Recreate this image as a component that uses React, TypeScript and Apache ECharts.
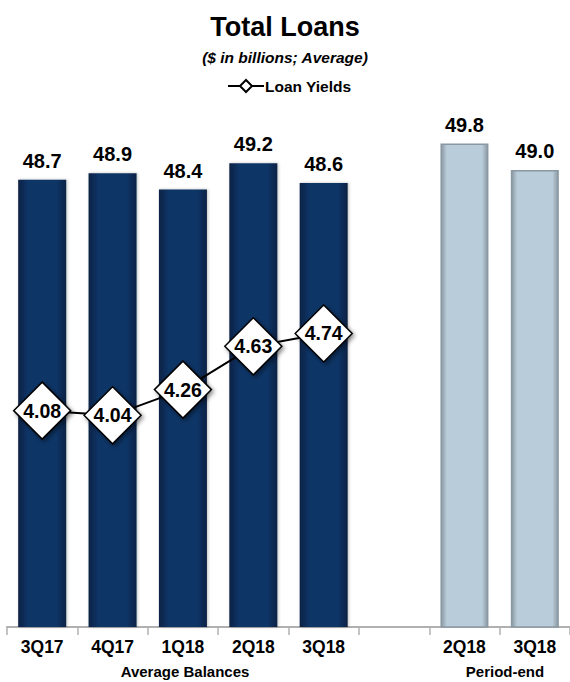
import React, { useEffect, useRef } from "react";
import * as echarts from "echarts";

const categories = ["3Q17", "4Q17", "1Q18", "2Q18", "3Q18", "", "2Q18", "3Q18"];
const averageBalances = [48.7, 48.9, 48.4, 49.2, 48.6, "-", "-", "-"];
const periodEnd = ["-", "-", "-", "-", "-", "-", 49.8, 49.0];
const loanYields = [4.08, 4.04, 4.26, 4.63, 4.74, "-", "-", "-"];
const groupLabels = ["Average Balances", "Period-end"];

const FONT = "'Liberation Sans', Arial, sans-serif";

export default function App() {
  const ref = useRef<HTMLDivElement>(null);
  useEffect(() => {
    document.body.style.margin = "0";
    const chart = echarts.init(ref.current!, null, { renderer: "svg" });
    const navy = new echarts.graphic.LinearGradient(0, 0, 1, 0, [
      { offset: 0, color: "#0a2244" },
      { offset: 0.2, color: "#0d3466" },
      { offset: 0.8, color: "#0d3466" },
      { offset: 1, color: "#0a2244" },
    ]);
    const light = new echarts.graphic.LinearGradient(0, 0, 1, 0, [
      { offset: 0, color: "#8a98a2" },
      { offset: 0.12, color: "#b9ccd9" },
      { offset: 0.88, color: "#b9ccd9" },
      { offset: 1, color: "#8a98a2" },
    ]);
    const barLabel = {
      show: true,
      position: "top",
      distance: 9,
      fontFamily: FONT,
      fontSize: 20,
      fontWeight: "bold",
      color: "#000",
      formatter: (p: any) => Number(p.value).toFixed(1),
    };
    chart.setOption({
      animation: false,
      textStyle: { fontFamily: FONT },
      title: [
        {
          text: "Total Loans",
          left: "center",
          top: 8,
          textStyle: { fontFamily: FONT, fontSize: 27, fontWeight: "bold", color: "#000" },
        },
        {
          text: "($ in billions; Average)",
          left: "center",
          top: 44,
          textStyle: { fontFamily: FONT, fontSize: 15.5, fontWeight: "bold", fontStyle: "italic", color: "#000" },
        },
      ],
      legend: {
        data: ["Loan Yields"],
        left: 222,
        top: 73,
        itemWidth: 36,
        itemHeight: 15,
        itemGap: 4,
        textStyle: { fontFamily: FONT, fontSize: 15.5, fontWeight: "bold", color: "#000", padding: [0, 0, 0, -4] },
      },
      grid: { left: 7, width: 569.6, top: 137, bottom: 55, containLabel: false },
      xAxis: {
        type: "category",
        data: categories,
        boundaryGap: true,
        axisLine: { lineStyle: { color: "#b0b0b0", width: 2 } },
        axisTick: { show: true, length: 8, lineStyle: { color: "#b0b0b0", width: 1.5 } },
        axisLabel: { margin: 11, fontFamily: FONT, fontSize: 17.5, fontWeight: "bold", color: "#000", interval: 0 },
      },
      yAxis: [
        { type: "value", min: 35.1, max: 50, show: false },
        { type: "value", min: 2.23, max: 6.42, show: false },
      ],
      series: [
        {
          name: "Average Balances",
          type: "bar",
          data: averageBalances,
          barWidth: 48,
          barGap: "-100%",
          itemStyle: { color: navy, shadowColor: "rgba(0,0,0,0.25)", shadowBlur: 3, shadowOffsetX: 1, shadowOffsetY: 0 },
          label: barLabel,
        },
        {
          name: "Period-end",
          type: "bar",
          data: periodEnd,
          barWidth: 48,
          itemStyle: { color: light, borderColor: "#8a98a2", borderWidth: 1.5 },
          label: barLabel,
        },
        {
          name: "Loan Yields",
          type: "line",
          yAxisIndex: 1,
          data: loanYields,
          symbol: "diamond",
          symbolSize: 57,
          lineStyle: { color: "#000", width: 2 },
          itemStyle: {
            color: "#fff",
            borderColor: "#000",
            borderWidth: 1.5,
            shadowColor: "rgba(0,0,0,0.45)",
            shadowBlur: 4,
            shadowOffsetX: 2,
            shadowOffsetY: 2,
          },
          label: {
            show: true,
            position: "inside",
            fontFamily: FONT,
            fontSize: 19.5,
            fontWeight: "bold",
            color: "#000",
            formatter: (p: any) => Number(p.value).toFixed(2),
          },
          z: 5,
        },
      ],
      graphic: [
        {
          type: "text",
          x: 185,
          y: 671,
          style: { text: groupLabels[0], font: `bold 15px ${FONT}`, fill: "#000", align: "center", verticalAlign: "middle" },
        },
        {
          type: "text",
          x: 505,
          y: 671,
          style: { text: groupLabels[1], font: `bold 15px ${FONT}`, fill: "#000", align: "center", verticalAlign: "middle" },
        },
      ],
    });
    return () => chart.dispose();
  }, []);
  return <div ref={ref} style={{ width: 570, height: 682 }} />;
}
